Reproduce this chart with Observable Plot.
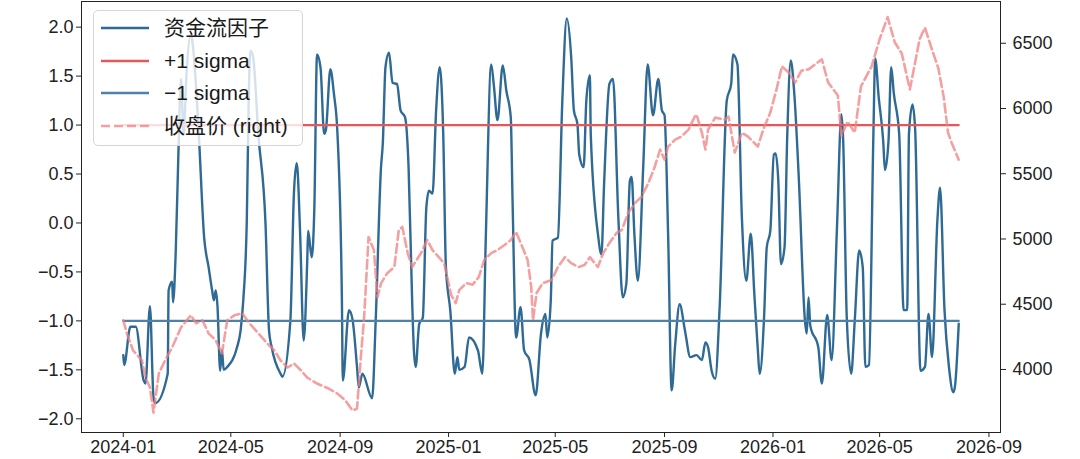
<!DOCTYPE html>
<html>
<head>
<meta charset="utf-8">
<script src="https://cdn.jsdelivr.net/npm/d3@7"></script>
<script src="https://cdn.jsdelivr.net/npm/@observablehq/plot@0.6"></script>
<style>
  body { margin: 0; background: #fff; }
  #wrap { position: relative; width: 1080px; height: 459px; font-family: "Liberation Sans", "Noto Sans CJK SC", sans-serif; }
  .legend { position: absolute; left: 93px; top: 10px; width: 210px; height: 136px; box-sizing: border-box;
            border: 1px solid #d6d6d6; border-radius: 5px; background: rgba(255,255,255,0.8); }
  .row { position: absolute; left: 0; height: 30px; display: flex; align-items: center; }
  .row svg { position: absolute; left: 7px; top: 0; }
  .row span { position: absolute; left: 70px; white-space: nowrap; font-size: 21px; color: #1a1a1a; line-height: 30px; top: 0; }
</style>
</head>
<body>
<div id="wrap"></div>
<script>
// ---- data ----
const flowDates = [
"2024-01-01","2024-01-02","2024-01-09","2024-01-15","2024-01-24","2024-01-26","2024-01-31","2024-02-04","2024-02-06","2024-02-20",
"2024-02-21","2024-02-25","2024-02-26","2024-02-29","2024-03-03","2024-03-06","2024-03-09","2024-03-12","2024-03-17","2024-03-20",
"2024-03-26","2024-04-01","2024-04-06","2024-04-10","2024-04-12","2024-04-14","2024-04-16","2024-04-19","2024-04-21","2024-04-23",
"2024-04-27","2024-05-08","2024-05-12","2024-05-15","2024-05-19","2024-05-21","2024-05-23","2024-05-26","2024-06-01","2024-06-09",
"2024-06-13","2024-06-16","2024-06-26","2024-06-28","2024-07-07","2024-07-11","2024-07-14","2024-07-15","2024-07-18","2024-07-22",
"2024-07-26","2024-07-27","2024-07-31","2024-08-03","2024-08-06","2024-08-10","2024-08-14","2024-08-16","2024-08-21","2024-08-25",
"2024-08-29","2024-09-03","2024-09-04","2024-09-11","2024-09-15","2024-09-20","2024-09-22","2024-09-26","2024-10-07","2024-10-11",
"2024-10-17","2024-10-19","2024-10-22","2024-10-26","2024-10-30","2024-11-04","2024-11-08","2024-11-13","2024-11-17","2024-11-21",
"2024-11-23","2024-11-25","2024-11-29","2024-12-03","2024-12-07","2024-12-10","2024-12-14","2024-12-18","2024-12-22","2024-12-26",
"2024-12-29","2025-01-03","2025-01-08","2025-01-11","2025-01-13","2025-01-19","2025-01-24","2025-02-03","2025-02-08","2025-02-12",
"2025-02-18","2025-02-21","2025-02-25","2025-03-03","2025-03-07","2025-03-12","2025-03-14","2025-03-18","2025-03-23","2025-03-27",
"2025-04-02","2025-04-09","2025-04-15","2025-04-20","2025-04-22","2025-04-26","2025-04-28","2025-05-04","2025-05-09","2025-05-14",
"2025-05-19","2025-05-22","2025-05-26","2025-05-28","2025-06-02","2025-06-05","2025-06-09","2025-06-10","2025-06-18","2025-06-22",
"2025-06-25","2025-07-01","2025-07-05","2025-07-11","2025-07-16","2025-07-20","2025-07-24","2025-07-26","2025-07-29","2025-08-02",
"2025-08-08","2025-08-13","2025-08-19","2025-08-25","2025-08-29","2025-09-01","2025-09-05","2025-09-09","2025-09-13","2025-09-18",
"2025-09-24","2025-09-30","2025-10-07","2025-10-13","2025-10-17","2025-10-20","2025-10-24","2025-10-28","2025-11-02","2025-11-10",
"2025-11-15","2025-11-17","2025-11-22","2025-11-27","2025-12-02","2025-12-07","2025-12-11","2025-12-15","2025-12-17","2025-12-22",
"2025-12-25","2025-12-29","2026-01-02","2026-01-04","2026-01-07","2026-01-10","2026-01-14","2026-01-17","2026-01-21","2026-01-25",
"2026-01-30","2026-02-06","2026-02-08","2026-02-10","2026-02-12","2026-02-21","2026-02-25","2026-03-03","2026-03-08","2026-03-14",
"2026-03-19","2026-03-21","2026-03-25","2026-03-30","2026-04-03","2026-04-08","2026-04-12","2026-04-15","2026-04-19","2026-04-24",
"2026-04-26","2026-04-30","2026-05-05","2026-05-07","2026-05-11","2026-05-14","2026-05-17","2026-05-23","2026-05-28","2026-06-01",
"2026-06-03","2026-06-07","2026-06-10","2026-06-16","2026-06-21","2026-06-25","2026-06-29","2026-07-05","2026-07-08","2026-07-13",
"2026-07-18","2026-07-23","2026-07-25","2026-07-29"
];
const flowValues = [
-1.35,-1.45,-1.06,-1.06,-1.61,-1.64,-0.85,-1.78,-1.84,-1.54,
-0.69,-0.60,-0.81,-0.30,0.70,1.47,0.90,1.50,1.93,1.75,
0.90,-0.15,-0.45,-0.69,-0.79,-0.69,-0.85,-1.51,-1.30,-1.50,
-1.47,-1.27,-1.10,-0.79,0.03,1.20,1.76,1.70,0.90,0.00,
-1.10,-1.27,-1.54,-1.57,-1.00,0.30,0.61,0.55,-0.11,-1.20,
-0.38,-0.08,-0.35,0.16,1.72,1.58,0.91,0.95,1.57,1.32,
0.91,-0.79,-1.61,-0.89,-0.99,-1.47,-1.68,-1.54,-1.79,-1.00,
0.57,0.81,1.59,1.74,1.43,1.42,1.15,1.08,0.57,-0.79,
-1.30,-1.47,-1.03,-0.97,0.16,0.33,0.30,1.15,1.59,0.91,
-0.45,-0.90,-1.54,-1.37,-1.50,-1.47,-1.17,-1.30,-1.54,-0.11,
1.62,1.40,1.05,1.61,1.35,1.08,0.23,-1.17,-0.86,-1.30,
-1.40,-1.76,-1.13,-0.93,-1.17,-0.79,-0.18,-0.15,1.25,2.09,
1.69,1.15,1.01,0.70,0.57,1.25,1.51,0.90,-0.11,-0.32,
0.40,1.42,1.47,0.06,-0.76,-0.62,0.43,0.47,-0.10,-0.59,
0.57,1.62,1.10,1.47,1.15,1.10,-0.11,-1.71,-1.24,-0.83,
-1.10,-1.37,-1.35,-1.40,-1.22,-1.27,-1.51,-1.59,-0.86,1.25,
1.42,1.72,1.62,0.06,-0.59,-0.11,-0.72,-1.30,-1.54,-0.96,
-0.25,-0.08,0.70,0.71,0.43,-0.42,-0.25,0.87,1.66,1.32,
0.47,-1.00,-1.13,-0.76,-1.05,-1.27,-1.64,-0.94,-1.40,-0.05,
1.11,0.84,-0.96,-1.54,-1.00,-0.28,-0.45,-1.47,-1.45,0.91,
1.68,1.28,0.84,0.54,0.84,1.59,1.32,0.91,-0.89,-0.89,
0.91,1.21,0.95,-1.51,-1.47,-0.93,-1.37,0.03,0.36,-0.89,
-1.47,-1.73,-1.65,-1.03
];
const priceDates = [
"2024-01-01","2024-01-05","2024-01-12","2024-01-22","2024-01-26","2024-01-31","2024-02-04","2024-02-10","2024-02-17","2024-02-25",
"2024-03-06","2024-03-17","2024-03-23","2024-03-30","2024-04-06","2024-04-14","2024-04-21","2024-04-27","2024-05-05","2024-05-14",
"2024-05-22","2024-05-31","2024-06-11","2024-06-19","2024-06-26","2024-07-04","2024-07-11","2024-07-19","2024-07-26","2024-08-06",
"2024-08-19","2024-08-29","2024-09-07","2024-09-15","2024-09-20","2024-09-24","2024-09-28","2024-10-03","2024-10-09","2024-10-13",
"2024-10-17","2024-10-24","2024-11-01","2024-11-06","2024-11-10","2024-11-16","2024-11-21","2024-12-01","2024-12-08","2024-12-14",
"2024-12-21","2024-12-27","2025-01-04","2025-01-09","2025-01-13","2025-01-21","2025-01-28","2025-02-04","2025-02-10","2025-02-18",
"2025-02-25","2025-03-05","2025-03-12","2025-03-18","2025-03-25","2025-03-31","2025-04-04","2025-04-06","2025-04-10","2025-04-17",
"2025-04-27","2025-05-04","2025-05-12","2025-05-19","2025-05-27","2025-06-03","2025-06-09","2025-06-18","2025-06-24","2025-07-01",
"2025-07-09","2025-07-15","2025-07-22","2025-07-30","2025-08-06","2025-08-14","2025-08-21","2025-08-27","2025-09-01","2025-09-05",
"2025-09-13","2025-09-20","2025-09-28","2025-10-05","2025-10-07","2025-10-13","2025-10-17","2025-10-20","2025-10-28","2025-11-08",
"2025-11-12","2025-11-19","2025-11-27","2025-12-04","2025-12-15","2025-12-21","2025-12-29","2026-01-05","2026-01-11","2026-01-18",
"2026-01-26","2026-02-02","2026-02-10","2026-02-25","2026-03-04","2026-03-15","2026-03-19","2026-03-26","2026-04-03","2026-04-10",
"2026-04-22","2026-05-01","2026-05-10","2026-05-18","2026-05-26","2026-06-04","2026-06-15","2026-06-21","2026-06-28","2026-07-06",
"2026-07-12","2026-07-17","2026-07-21","2026-07-29"
];
const priceValues = [
4377,4277,4146,4069,3938,3862,3669,3969,4069,4169,
4323,4415,4354,4377,4277,4223,4123,4377,4415,4430,
4354,4285,4200,4146,4069,4015,4046,3992,3938,3892,
3854,3815,3762,3685,3700,4069,4400,5015,4915,4554,
4660,4738,4785,5069,5092,4892,4785,4892,4992,4915,
4861,4815,4570,4508,4608,4662,4650,4708,4838,4892,
4915,4954,4992,5054,4938,4838,4631,4377,4585,4662,
4685,4785,4861,4815,4785,4800,4861,4785,4892,4969,
5046,5069,5200,5277,5323,5431,5554,5685,5608,5708,
5762,5785,5838,5938,5954,5815,5685,5838,5930,5915,
5938,5662,5815,5785,5708,5838,5969,6146,6323,6280,
6200,6290,6300,6377,6200,6100,5790,5900,5815,6169,
6323,6531,6700,6508,6420,6146,6531,6620,6470,6310,
6092,5815,5738,5608
];
const leftTicks = [-2.0,-1.5,-1.0,-0.5,0.0,0.5,1.0,1.5,2.0];
const rightTicks = [4000,4500,5000,5500,6000,6500];
const xTicks = ["2024-01","2024-05","2024-09","2025-01","2025-05","2025-09","2026-01","2026-05","2026-09"];
const sigmaLevels = [1, -1];
const seriesNames = ["资金流因子", "+1 sigma", "−1 sigma", "收盘价 (right)"];

// ---- scales / mapping ----
const parse = d3.utcParse("%Y-%m-%d");
const parseMonth = d3.utcParse("%Y-%m");
const leftDomain = [-2.14, 2.262];
const rightDomain = [3517, 6820];
const toLeft = p => leftDomain[0] + (p - rightDomain[0]) / (rightDomain[1] - rightDomain[0]) * (leftDomain[1] - leftDomain[0]);
const fromLeft = v => rightDomain[0] + (v - leftDomain[0]) / (leftDomain[1] - leftDomain[0]) * (rightDomain[1] - rightDomain[0]);

const flow = flowDates.map((d, i) => ({date: parse(d), value: flowValues[i]}));
const price = priceDates.map((d, i) => ({date: parse(d), value: toLeft(priceValues[i])}));
const first = flow[0].date, last = flow[flow.length - 1].date;
const plusSigma = [{date: first, value: sigmaLevels[0]}, {date: last, value: sigmaLevels[0]}];
const minusSigma = [{date: first, value: sigmaLevels[1]}, {date: last, value: sigmaLevels[1]}];

const C_FLOW = "#2e6a94", C_PLUS = "#e5585a", C_MINUS = "#4f80a8", C_PRICE = "#f08080";

const chart = Plot.plot({
  width: 1080, height: 459,
  marginLeft: 81, marginRight: 80, marginTop: 1, marginBottom: 27,
  style: {fontFamily: '"Liberation Sans", "Noto Sans CJK SC", sans-serif', background: "white", color: "#222"},
  x: {type: "utc", domain: [parse("2023-11-15"), parse("2026-09-14")]},
  y: {domain: leftDomain},
  marks: [
    Plot.line(flow, {x: "date", y: "value", stroke: C_FLOW, strokeWidth: 2.4, curve: "monotone-x"}),
    Plot.line(plusSigma, {x: "date", y: "value", stroke: C_PLUS, strokeWidth: 2.2}),
    Plot.line(minusSigma, {x: "date", y: "value", stroke: C_MINUS, strokeWidth: 2.2}),
    Plot.line(price, {x: "date", y: "value", stroke: C_PRICE, strokeOpacity: 0.75, strokeWidth: 2.6, strokeDasharray: "9,4"}),
    Plot.frame({stroke: "#222", strokeWidth: 1}),
    Plot.axisY(leftTicks, {anchor: "left", tickSize: 5, tickPadding: 3, fontSize: 18,
      tickFormat: d => d3.format(".1f")(d).replace("-", "−"), label: null}),
    Plot.axisY(rightTicks.map(toLeft), {anchor: "right", tickSize: 5, tickPadding: 7, fontSize: 18,
      tickFormat: d => String(Math.round(fromLeft(d))), label: null}),
    Plot.axisX(xTicks.map(parseMonth), {anchor: "bottom", tickSize: 5, tickPadding: 3, fontSize: 18,
      tickFormat: d3.utcFormat("%Y-%m"), label: null})
  ]
});

const wrap = document.getElementById("wrap");
wrap.appendChild(chart);

// ---- legend ----
const legend = document.createElement("div");
legend.className = "legend";
const swatches = [
  {stroke: C_FLOW, dash: null, op: 1},
  {stroke: C_PLUS, dash: null, op: 1},
  {stroke: C_MINUS, dash: null, op: 1},
  {stroke: C_PRICE, dash: "9,4", op: 0.75}
];
seriesNames.forEach((name, i) => {
  const row = document.createElement("div");
  row.className = "row";
  row.style.top = (2 + i * 32.5) + "px";
  const s = swatches[i];
  row.innerHTML = `<svg width="50" height="30"><line x1="0" x2="48" y1="15" y2="15" stroke="${s.stroke}" stroke-width="2.6" stroke-opacity="${s.op}" ${s.dash ? `stroke-dasharray="${s.dash}"` : ""}/></svg><span>${name}</span>`;
  legend.appendChild(row);
});
wrap.appendChild(legend);
</script>
</body>
</html>
